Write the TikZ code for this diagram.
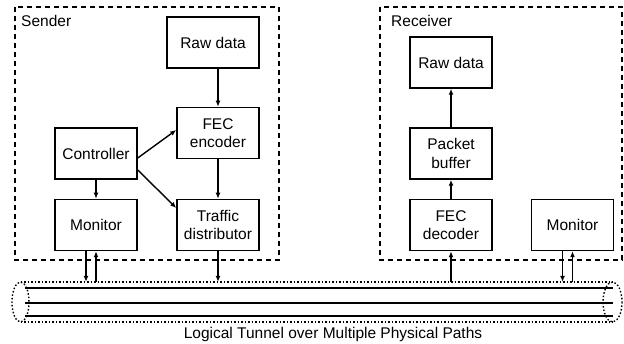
\documentclass[tikz,border=0pt]{standalone}
\usepackage{fontspec}
\setmainfont{Liberation Sans}
\usetikzlibrary{arrows.meta}
\begin{document}
\begin{tikzpicture}[x=1pt,y=-1pt,
  box/.style={draw,line width=1.5pt,minimum width=82pt,minimum height=51pt,inner sep=0pt,align=center,font=\fontsize{15.5}{18.5}\selectfont},
  arr/.style={line width=1.4pt,-{Latex[length=6pt,width=5pt]}},
  frame/.style={line width=1.4pt,dash pattern=on 5pt off 4pt},
  dots/.style={line width=1.4pt,dash pattern=on 1.5pt off 2pt},
  lab/.style={font=\fontsize{15.5}{18.5}\selectfont,inner sep=0pt}]
\useasboundingbox (0,0) rectangle (624,344);
% frames
\draw[frame] (15,7) rectangle (279,260);
\draw[frame] (380,7) rectangle (622,260);
\node[lab,anchor=base west] (sl) at (21,27) {Sender};
\node[lab,anchor=base west] (rl) at (391,27) {Receiver};
% sender nodes
\node[box,minimum width=92pt] (rds) at (213,42.5) {Raw data};
\node[box] (fec) at (218,133) {FEC\\encoder};
\node[box] (ctrl) at (96,153.5) {Controller};
\node[box] (ms) at (96,225) {Monitor};
\node[box] (td) at (218,225) {Traffic\\distributor};
% receiver nodes
\node[box] (rdr) at (451,62.5) {Raw data};
\node[box] (pb) at (451,153.5) {Packet\\buffer};
\node[box] (fd) at (451,225) {FEC\\decoder};
\node[box] (mr) at (572.5,225) {Monitor};
% tunnel
\node[inner sep=0pt,minimum width=592pt,minimum height=40pt] (tun) at (316.5,302) {};
\draw[dots] (20.5,282) -- (612.5,282);
\draw[dots] (20.5,322) -- (612.5,322);
\draw[dots] (20.5,302) ellipse [x radius=8.5, y radius=20];
\draw[dots] (612.5,302) ellipse [x radius=9.5, y radius=20];
\foreach \y in {288,303,316}{
  \draw[line width=1.2pt] (25,\y) -- (613,\y);
  \draw[line width=2pt] (532,\y) -- (613,\y);
}
\node[lab,anchor=base] (tl) at (333,339) {Logical Tunnel over Multiple Physical Paths};
% arrows sender
\draw[arr] (rds.south -| fec.north) -- (fec.north);
\draw[arr] (fec) -- (td);
\draw[arr] (ctrl) -- (ms);
\draw[arr] ([yshift=-4.5pt]ctrl.east) -- ([yshift=3pt]fec.west);
\draw[arr] ([yshift=-16.5pt]ctrl.east) -- ([yshift=17pt]td.west);
\draw[arr] ([xshift=-10pt]ms.south) -- ([xshift=-10pt]ms.south |- tun.north);
\draw[arr] (ms.south |- tun.north) -- (ms.south);
\draw[arr] (td.south) -- (td.south |- tun.north);
% arrows receiver
\draw[arr] (pb) -- (rdr);
\draw[arr] (fd) -- (pb);
\draw[arr] (fd.south |- tun.north) -- (fd.south);
\draw[arr] ([xshift=-10pt]mr.south) -- ([xshift=-10pt]mr.south |- tun.north);
\draw[arr] (mr.south |- tun.north) -- (mr.south);
\end{tikzpicture}
\end{document}
